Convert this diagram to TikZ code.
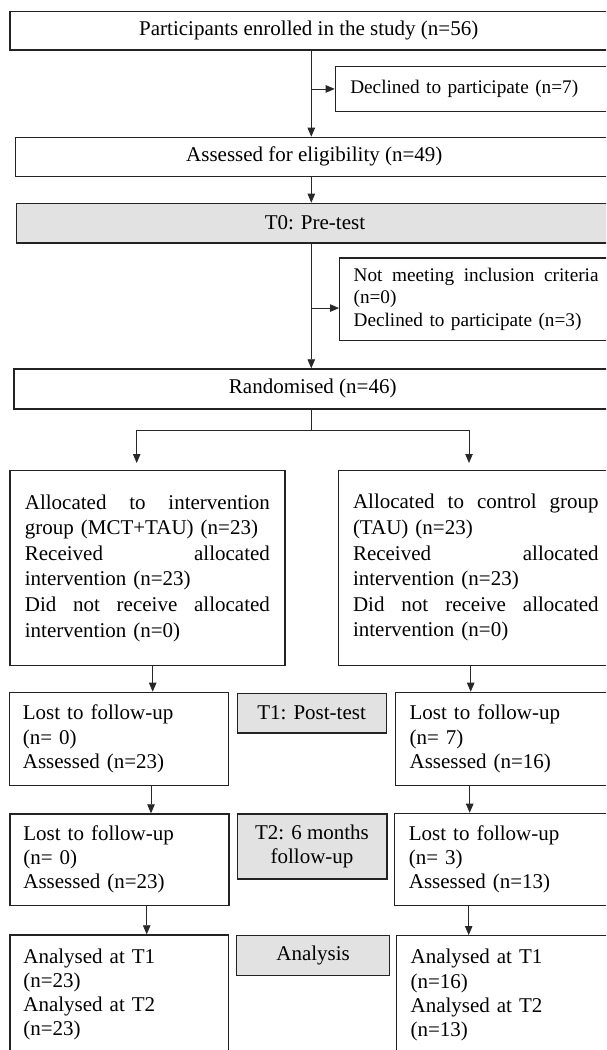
\documentclass[tikz,border=0pt]{standalone}
\usepackage{fontspec}
\setmainfont{Liberation Serif}
\usetikzlibrary{arrows.meta,calc}
\definecolor{boxgray}{RGB}{226,226,226}
\definecolor{bordc}{RGB}{35,35,35}
\definecolor{linec}{RGB}{40,40,40}
\newcommand\FontMain{\fontsize{21}{24.2}\selectfont}
\newcommand\FontAlloc{\fontsize{21}{25.6}\selectfont}
\newcommand\FontSide{\fontsize{19.25}{22.5}\selectfont}
\begin{document}
\begin{tikzpicture}[x=1pt,y=-1pt,
  bx/.style={draw=bordc, line width=1.2pt, anchor=north west, inner ysep=0pt, font=\FontMain},
  mainbox/.style={bx, align=center, inner xsep=0pt},
  lbox/.style={bx, align=left},
  gbox/.style={bx, fill=boxgray, align=center, inner xsep=0pt},
  conn/.style={draw=linec, line width=0.75pt},
  arr/.style={conn, -{Triangle[length=9pt,width=7.5pt]}},
]
\useasboundingbox (0,0) rectangle (606,1050);
\clip (0,0) rectangle (606,1050);

% main column
\node[mainbox, minimum width=597.7pt, minimum height=38.6pt] (enrol) at (9.3,10.7)
  {Participants enrolled in the study (n=56)};
\node[lbox, font=\FontSide, minimum width=277.3pt, minimum height=44.7pt, text width=247.3pt, inner xsep=15pt] (decl) at (334.7,66)
  {Declined to participate (n=7)};
\node[mainbox, minimum width=598pt, minimum height=39pt] (assess) at (14.7,136.7)
  {Assessed for eligibility (n=49)};
\node[gbox, minimum width=597.3pt, minimum height=39.6pt] (pre) at (15.7,202.7)
  {T0: Pre-test};
\node[lbox, font=\FontSide, minimum width=273pt, minimum height=82.7pt, text width=245pt, inner xsep=14pt] (notmeet) at (339,257.3)
  {Not\hfill meeting\hfill inclusion\hfill criteria\\(n=0)\\Declined to participate (n=3)};
\node[mainbox, minimum width=597.7pt, minimum height=40pt] (rand) at (13.3,368.3)
  {Randomised (n=46)};

% allocation
\node[lbox, font=\FontAlloc, minimum width=275pt, minimum height=195pt, text width=245pt, inner xsep=15pt] (allocL) at (9.3,470)
  {Allocated\hfill to\hfill intervention\\group (MCT+TAU) (n=23)\\Received\hfill allocated\\intervention (n=23)\\Did\hfill not\hfill receive\hfill allocated\\intervention (n=0)};
\node[lbox, font=\FontAlloc, minimum width=274.5pt, minimum height=194.5pt, text width=245.7pt, inner xsep=14.4pt] (allocR) at (338,470)
  {Allocated\hfill to\hfill control\hfill group\\(TAU) (n=23)\\Received\hfill allocated\\intervention (n=23)\\Did\hfill not\hfill receive\hfill allocated\\intervention (n=0)};

% follow-up rows, left
\node[lbox, minimum width=219.2pt, minimum height=93.3pt, text width=192.2pt, inner xsep=13.5pt] (t1L) at (8.8,691.7)
  {Lost to follow-up\\(n= 0)\\Assessed (n=23)};
\node[lbox, minimum width=219pt, minimum height=91.2pt, text width=192pt, inner xsep=13.5pt] (t2L) at (9.3,813.3)
  {Lost to follow-up\\(n= 0)\\Assessed (n=23)};
\node[lbox, minimum width=218.4pt, minimum height=119pt, text width=191.4pt, inner xsep=13.5pt] (anL) at (9.3,934.3)
  {Analysed at T1\\(n=23)\\Analysed at T2\\(n=23)};

% follow-up rows, right
\node[lbox, minimum width=220pt, minimum height=93.3pt, text width=191.4pt, inner xsep=14.3pt] (t1R) at (394.7,691.7)
  {Lost to follow-up\\(n= 7)\\Assessed (n=16)};
\node[lbox, minimum width=220pt, minimum height=92.3pt, text width=191.4pt, inner xsep=14.3pt] (t2R) at (394,812.7)
  {Lost to follow-up\\(n= 3)\\Assessed (n=13)};
\node[lbox, minimum width=220pt, minimum height=119pt, text width=191.4pt, inner xsep=14.3pt] (anR) at (395.7,935)
  {Analysed at T1\\(n=16)\\Analysed at T2\\(n=13)};

% grey stage labels
\node[gbox, minimum width=149pt, minimum height=39.6pt] (post) at (236.5,692.7) {T1: Post-test};
\node[gbox, minimum width=149.8pt, minimum height=65pt] (six) at (236.5,813.3) {T2: 6 months\\follow-up};
\node[gbox, minimum width=153pt, minimum height=40pt] (anal) at (236,935) {Analysis};

% connectors
\coordinate (cx) at (311.3,0);
\draw[arr] (enrol.south -| cx) -- (assess.north -| cx);
\draw[arr] (cx |- decl.west) -- (decl.west);
\draw[arr] (assess.south -| cx) -- (pre.north -| cx);
\draw[arr] (pre.south -| cx) -- (rand.north -| cx);
\coordinate (nmin) at ($(notmeet.north west)!0.605!(notmeet.south west)$);
\draw[arr] (cx |- nmin) -- (nmin);

\coordinate (split) at (311.3,430);
\coordinate (bl) at (136.7,430);
\coordinate (br) at (469,430);
\draw[conn] (rand.south -| cx) -- (split);
\draw[arr, shorten >=7pt] (split) -- (bl) -- (allocL.north -| bl);
\draw[arr, shorten >=7pt] (split) -- (br) -- (allocR.north -| br);

\coordinate (la) at (152.7,0);
\coordinate (lb) at (151,0);
\coordinate (lc) at (146.7,0);
\coordinate (ra) at (470.7,0);
\coordinate (rb) at (469.7,0);
\coordinate (rc) at (468.7,0);
\draw[arr] (allocL.south -| la) -- (t1L.north -| la);
\draw[arr] (t1L.south -| lb) -- (t2L.north -| lb);
\draw[arr] (t2L.south -| lc) -- (anL.north -| lc);
\draw[arr] (allocR.south -| ra) -- (t1R.north -| ra);
\draw[arr] (t1R.south -| rb) -- (t2R.north -| rb);
\draw[arr] (t2R.south -| rc) -- (anR.north -| rc);
\end{tikzpicture}
\end{document}
